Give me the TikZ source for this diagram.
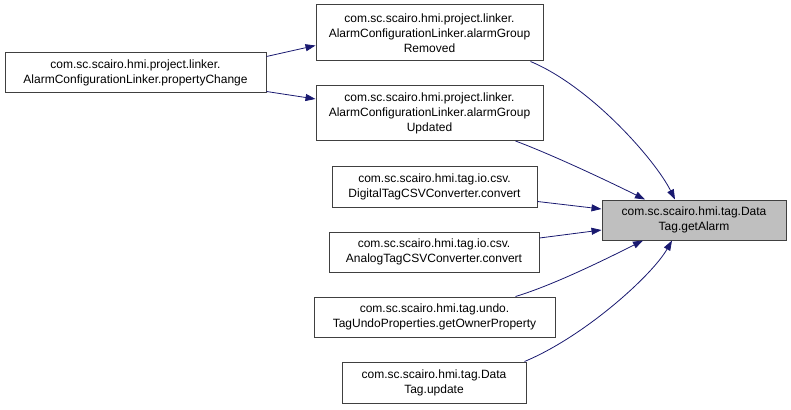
\documentclass[tikz,border=0pt]{standalone}
\usepackage{fontspec}
\setmainfont{Liberation Sans}
\usetikzlibrary{arrows.meta}
\definecolor{edgeblue}{HTML}{191970}
\definecolor{boxgray}{HTML}{404040}
\definecolor{hilite}{HTML}{BFBFBF}
\begin{document}
\begin{tikzpicture}[x=1pt,y=-1pt,
  box/.style={draw=boxgray,line width=1pt,fill=white,inner sep=0pt,align=center,
    font=\fontsize{12pt}{15pt}\selectfont},
  cur/.style={box,fill=hilite},
  edge/.style={draw=edgeblue,line width=0.8pt,-{Triangle[length=10pt,width=7pt]}}]
\useasboundingbox (0,0) rectangle (791,409);
\node[box,minimum width=261pt,minimum height=40pt] (p) at (135.5,73) {com.sc.scairo.hmi.project.linker.\\AlarmConfigurationLinker.propertyChange};
\node[box,minimum width=227pt,minimum height=56pt] (rem) at (429.5,33) {com.sc.scairo.hmi.project.linker.\\AlarmConfigurationLinker.alarmGroup\\Removed};
\node[box,minimum width=227pt,minimum height=55pt] (upd) at (429.5,113) {com.sc.scairo.hmi.project.linker.\\AlarmConfigurationLinker.alarmGroup\\Updated};
\node[box,minimum width=205pt,minimum height=41pt] (dig) at (434.5,186.5) {com.sc.scairo.hmi.tag.io.csv.\\DigitalTagCSVConverter.convert};
\node[box,minimum width=210pt,minimum height=40pt] (ana) at (434,252) {com.sc.scairo.hmi.tag.io.csv.\\AnalogTagCSVConverter.convert};
\node[box,minimum width=241pt,minimum height=40pt] (undo) at (434.5,317) {com.sc.scairo.hmi.tag.undo.\\TagUndoProperties.getOwnerProperty};
\node[box,minimum width=184pt,minimum height=41pt] (dup) at (434,382.5) {com.sc.scairo.hmi.tag.Data\\Tag.update};
\node[cur,minimum width=184pt,minimum height=40pt] (ga) at (694,220) {com.sc.scairo.hmi.tag.Data\\Tag.getAlarm};
% edges
\draw[edge] ([yshift=-4]p.north east) -- ([yshift=-41]rem.north west);
\draw[edge] ([yshift=2]p.south east) -- ([yshift=-14]upd.north west);
\draw[edge] ([xshift=-13]rem.south east) .. controls +(60,25) and +(-20,-40) .. ([xshift=-19]ga.north);
\draw[edge] ([xshift=-28]upd.south east) .. controls +(40,15) and +(-30,-15) .. ([xshift=-49]ga.north);
\draw[edge] ([yshift=-15]dig.east) -- ([yshift=11]ga.west);
\draw[edge] ([yshift=14]ana.east) -- ([yshift=-10]ga.west);
\draw[edge] ([xshift=81]undo.north) .. controls +(40,-12) and +(-30,15) .. ([xshift=-51]ga.south);
\draw[edge] ([xshift=-2]dup.north east) .. controls +(60,-25) and +(-20,35) .. ([xshift=-22]ga.south);
\end{tikzpicture}
\end{document}
